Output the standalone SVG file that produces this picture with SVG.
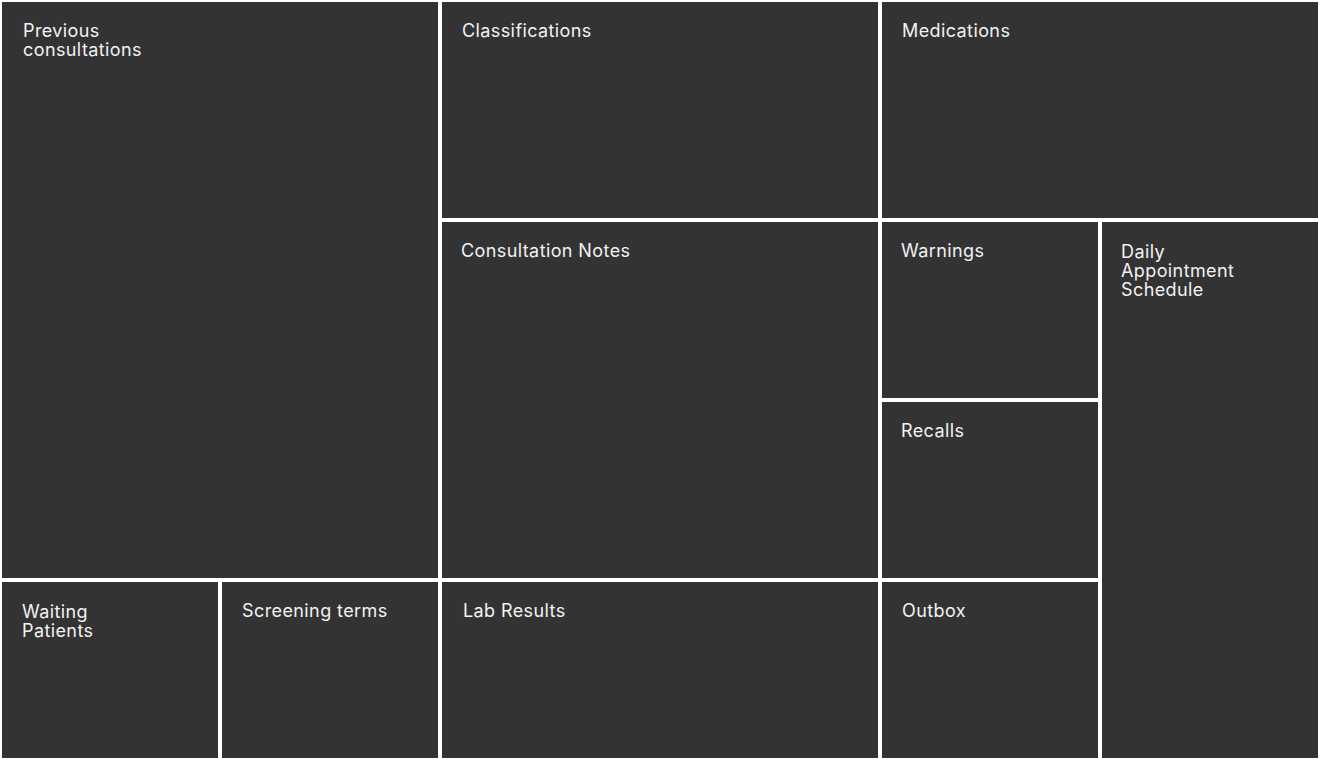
<svg xmlns="http://www.w3.org/2000/svg" width="1320" height="760" viewBox="0 0 1320 760">
<style>
.n{fill:#333333}
.t{fill:#f2f2f2;font-family:Inter,"Liberation Sans",sans-serif;font-size:18px;letter-spacing:0.4px}
</style>
<rect width="1320" height="760" fill="#ffffff"/>
<g id="previous-consultations"><rect class="n" x="2" y="2" width="436" height="576"/><text class="t" x="23" y="37">Previous</text><text class="t" x="23" y="56">consultations</text></g>
<g id="classifications"><rect class="n" x="442" y="2" width="436" height="216"/><text class="t" x="462" y="37">Classifications</text></g>
<g id="medications"><rect class="n" x="882" y="2" width="436" height="216"/><text class="t" x="902" y="37">Medications</text></g>
<g id="consultation-notes"><rect class="n" x="442" y="222" width="436" height="356"/><text class="t" x="461" y="257">Consultation Notes</text></g>
<g id="warnings"><rect class="n" x="882" y="222" width="216" height="176"/><text class="t" x="901" y="257">Warnings</text></g>
<g id="daily-appointment-schedule"><rect class="n" x="1102" y="222" width="216" height="536"/><text class="t" x="1121" y="258">Daily</text><text class="t" x="1121" y="277">Appointment</text><text class="t" x="1121" y="296">Schedule</text></g>
<g id="recalls"><rect class="n" x="882" y="402" width="216" height="176"/><text class="t" x="901" y="437">Recalls</text></g>
<g id="waiting-patients"><rect class="n" x="2" y="582" width="216" height="176"/><text class="t" x="22" y="618">Waiting</text><text class="t" x="22" y="637">Patients</text></g>
<g id="screening-terms"><rect class="n" x="222" y="582" width="216" height="176"/><text class="t" x="242" y="617">Screening terms</text></g>
<g id="lab-results"><rect class="n" x="442" y="582" width="436" height="176"/><text class="t" x="463" y="617">Lab Results</text></g>
<g id="outbox"><rect class="n" x="882" y="582" width="216" height="176"/><text class="t" x="902" y="617">Outbox</text></g>
<g id="connectors"/>
</svg>
